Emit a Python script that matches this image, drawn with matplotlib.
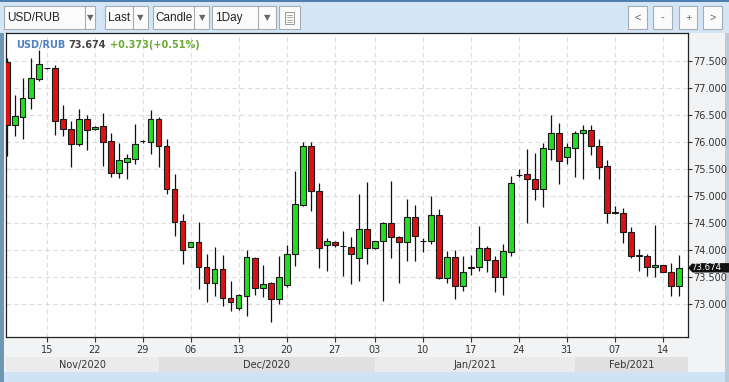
import numpy as np
import matplotlib
matplotlib.use('Agg')
import matplotlib.pyplot as plt
from matplotlib.patches import Rectangle, Polygon
from matplotlib.transforms import blended_transform_factory

# daily candles 09 Nov 2020 .. 16 Feb 2021 (forex feed, Sunday sessions included)
opens = [77.48, 76.33, 76.47, 76.83, 77.18, 77.37, 77.37, 76.43, 76.24, 75.96,
         76.44, 76.24, 76.30, 76.02, 75.44, 75.63, 75.70, 76.02, 76.01, 76.43,
         75.94, 75.13, 74.54, 74.07, 74.15, 73.69, 73.39, 73.65, 73.11, 72.93,
         73.16, 73.85, 73.30, 73.39, 73.09, 73.35, 73.93, 74.84, 75.93, 75.10,
         74.09, 74.15, 74.08, 74.07, 73.85, 74.39, 74.04, 74.18, 74.50, 74.24,
         74.15, 74.61, 74.17, 74.17, 74.65, 73.48, 73.87, 73.33, 73.68, 73.69,
         74.04, 73.82, 73.51, 73.97, 75.39, 75.41, 75.32, 75.13, 75.87, 76.17,
         75.72, 75.89, 76.17, 76.23, 75.94, 75.56, 74.70, 74.70, 74.33, 73.90,
         73.90, 73.69, 73.72, 73.60, 73.34]
highs = [77.56, 76.88, 77.19, 77.57, 77.71, 77.38, 77.43, 76.69, 76.40, 76.62,
         76.51, 76.31, 76.55, 76.17, 75.98, 75.78, 76.34, 76.05, 76.60, 76.46,
         76.06, 75.41, 74.67, 74.16, 74.52, 73.94, 74.06, 73.91, 73.43, 73.19,
         74.00, 73.87, 73.73, 73.42, 73.89, 74.10, 75.47, 76.01, 76.01, 75.24,
         74.22, 74.17, 74.36, 74.25, 75.04, 75.27, 74.18, 74.53, 75.28, 74.27,
         74.95, 74.84, 74.22, 75.01, 74.76, 73.99, 74.00, 73.89, 73.91, 74.45,
         74.08, 73.89, 74.12, 75.38, 75.50, 75.88, 75.80, 75.98, 76.51, 76.36,
         75.99, 76.21, 76.32, 76.33, 76.06, 75.67, 74.82, 74.79, 74.43, 74.02,
         73.94, 74.47, 73.72, 73.77, 73.91]
lows = [75.75, 76.12, 76.06, 76.62, 77.14, 77.36, 76.14, 76.11, 75.54, 75.94,
        75.85, 76.23, 75.57, 75.35, 75.33, 75.32, 75.59, 75.99, 75.78, 75.55,
        75.04, 74.27, 73.75, 74.07, 73.29, 73.05, 73.16, 72.96, 72.88, 72.90,
        72.79, 73.17, 73.13, 72.67, 73.01, 73.32, 73.71, 74.82, 74.72, 73.68,
        73.62, 74.07, 73.52, 73.38, 73.44, 73.75, 74.03, 73.07, 73.85, 73.40,
        73.80, 73.81, 73.97, 74.11, 73.46, 73.39, 73.10, 73.25, 73.54, 73.62,
        73.60, 73.22, 73.18, 73.90, 75.35, 74.51, 74.94, 74.81, 75.67, 75.23,
        75.60, 75.35, 75.32, 75.77, 75.32, 74.51, 74.68, 74.14, 73.85, 73.62,
        73.52, 73.51, 73.59, 73.15, 73.15]
closes = [76.33, 76.49, 76.83, 77.19, 77.45, 77.37, 76.40, 76.24, 75.96, 76.44,
          76.23, 76.29, 76.01, 75.44, 75.67, 75.71, 75.96, 76.03, 76.43, 75.93,
          75.13, 74.53, 74.00, 74.15, 73.69, 73.39, 73.65, 73.11, 73.04, 73.17,
          73.87, 73.30, 73.37, 73.09, 73.51, 73.93, 74.85, 75.93, 75.09, 74.04,
          74.17, 74.09, 74.08, 73.93, 74.39, 74.04, 74.17, 74.50, 74.24, 74.15,
          74.61, 74.26, 74.17, 74.65, 73.48, 73.87, 73.34, 73.59, 73.68, 74.04,
          73.82, 73.51, 73.99, 75.24, 75.39, 75.32, 75.13, 75.89, 76.17, 75.66,
          75.91, 76.17, 76.23, 75.94, 75.55, 74.69, 74.70, 74.33, 73.90, 73.90,
          73.69, 73.72, 73.60, 73.34, 73.674]

tick_idx = [5, 11, 17, 23, 29, 35, 41, 46, 52, 58, 64, 70, 76, 82]
tick_labels = ['15', '22', '29', '06', '13', '20', '27', '03', '10', '17',
               '24', '31', '07', '14']
month_labels = ['Nov/2020', 'Dec/2020', 'Jan/2021', 'Feb/2021']
month_start = [0, 19, 46, 71]
y_ticks = [73.0, 73.5, 74.0, 74.5, 75.0, 75.5, 76.0, 76.5, 77.0, 77.5]

symbol = 'USD/RUB'
last_txt = '73.674'
change_txt = '+0.373(+0.51%)'

W, H = 729, 382
fig = plt.figure(figsize=(W / 100, H / 100), dpi=100)
fig.patch.set_facecolor('#d4e6f6')

# pixel canvas for the widget chrome
ui = fig.add_axes([0, 0, 1, 1], zorder=0)
ui.set_xlim(0, W)
ui.set_ylim(H, 0)
ui.axis('off')


def box(x0, y0, x1, y1, fc, ec='none', lw=0.8, z=1):
    ui.add_patch(Rectangle((x0, y0), x1 - x0, y1 - y0, facecolor=fc,
                           edgecolor=ec, lw=lw, zorder=z))


# frame
box(0, 0, W, 1.5, '#4f7fae')
box(0, 32.5, W, 372, '#f1f3f5')
box(0, 32.5, 4.5, 382, '#6e97b5')
box(725, 32.5, W, 382, '#bccbd8')
box(4.5, 372, 725, 382, '#cfe3f6')

# toolbar dropdowns
ui_font = ['Liberation Sans', 'DejaVu Sans']
drops = [('USD/RUB', 3.7, 84.7, 95.4), ('Last', 104.7, 132.7, 148),
         ('Candle', 152.7, 194, 209.5), ('1Day', 211.8, 258, 275.6)]
for lab, x0, xd, x1 in drops:
    box(x0, 6, x1, 29, '#fbfbfb', '#a4acb4', 0.8, 2)
    ui.plot([xd, xd], [6, 29], color='#a4acb4', lw=0.8, zorder=3)
    ui.text(x0 + 3, 18, lab, fontsize=8.5, family=ui_font, color='#222',
            va='center', ha='left', zorder=3)
    ui.text((xd + x1) / 2, 18, '\u25bc', fontsize=6, color='#666',
            va='center', ha='center', zorder=3)
box(279, 6, 300, 29, '#fbfbfb', '#a4acb4', 0.8, 2)
box(285, 11.5, 294, 23.5, 'none', '#888', 0.6, 3)
for yy in [14.5, 17, 19.5, 22]:
    ui.plot([287, 292], [yy, yy], color='#888', lw=0.5, zorder=3)

for lab, x0, x1 in [('<', 628.5, 647), ('-', 653, 672), ('+', 679, 697.5), ('>', 703, 722)]:
    box(x0, 6, x1, 28.5, '#fbfbfb', '#a4acb4', 0.8, 2)
    ui.text((x0 + x1) / 2, 17.5, lab, fontsize=8, family=ui_font, color='#666',
            va='center', ha='center', zorder=3)

# price panel
L, R, T, B = 5.7, 687.7, 33.3, 337.3
ax = fig.add_axes([L / W, 1 - B / H, (R - L) / W, (B - T) / H], zorder=1)
ax.set_facecolor('white')

x = np.arange(len(opens))
o = np.array(opens)
c = np.array(closes)
colors = np.where(c >= o, '#22dd22', '#dd1111')
ax.vlines(x, lows, highs, color='#111111', lw=0.9, zorder=2)
ax.bar(x, np.maximum(np.abs(c - o), 0.008), bottom=np.minimum(o, c), width=0.7,
       color=colors, edgecolor='#1a1a1a', lw=0.8, zorder=3)

x_lo, x_hi = -0.125, 85.125
y_lo, y_hi = 72.389, 78.019
ax.set_xlim(x_lo, x_hi)
ax.set_ylim(y_lo, y_hi)

ax.set_xticks(tick_idx)
ax.set_xticklabels(tick_labels)
ax.yaxis.tick_right()
ax.set_yticks(y_ticks)
ax.set_yticklabels([f'{v:.3f}' for v in y_ticks])
ax.tick_params(axis='y', direction='out', length=3, width=0.8, pad=1,
               labelsize=7, colors='#333333')
ax.tick_params(axis='x', direction='out', length=3.5, width=0.8, pad=2,
               labelsize=7, colors='#333333')
ax.grid(True, color='#dcdcdc', linestyle=(0, (4, 3)), lw=0.8, zorder=0)
for s in ax.spines.values():
    s.set_color('#222222')
    s.set_linewidth(0.9)

# month strip under the day labels
tb = blended_transform_factory(ax.transData, ax.transAxes)
edges = [x_lo] + month_start[1:] + [x_hi]
for k, name in enumerate(month_labels):
    a, b = edges[k], edges[k + 1]
    ax.add_patch(Rectangle((a, -0.1151), b - a, 0.0513, transform=tb,
                           clip_on=False, facecolor='#ebebeb' if k % 2 == 0 else '#e0e0e0',
                           edgecolor='none', zorder=0))
    ax.text((a + b) / 2, -0.0895, name, transform=tb, ha='center', va='center',
            fontsize=7, color='#333333', clip_on=False)

# header line: pieces laid out one after another, above the price axes
renderer = fig.canvas.get_renderer()
hx = 16
for txt, col in [(symbol, '#4f7fc0'), (last_txt, '#444444'), (change_txt, '#6aaa35')]:
    t = fig.text(hx, 45, txt, transform=ui.transData, fontsize=7, weight='bold',
                 color=col, va='center', ha='left', zorder=5)
    hx += t.get_window_extent(renderer).width + 3.5

# last price tag
ytag = B - (closes[-1] - y_lo) / (y_hi - y_lo) * (B - T)
fig.add_artist(Polygon([(688, ytag), (692.5, ytag - 4.8), (W, ytag - 4.8), (W, ytag + 4.6),
                        (692.5, ytag + 4.6)], closed=True, facecolor='#111111',
                       edgecolor='none', transform=ui.transData, zorder=5))
fig.text(691, ytag, last_txt, transform=ui.transData, fontsize=6.2, color='white',
         va='center', ha='left', zorder=6)

fig.savefig('out.png', dpi=100)
